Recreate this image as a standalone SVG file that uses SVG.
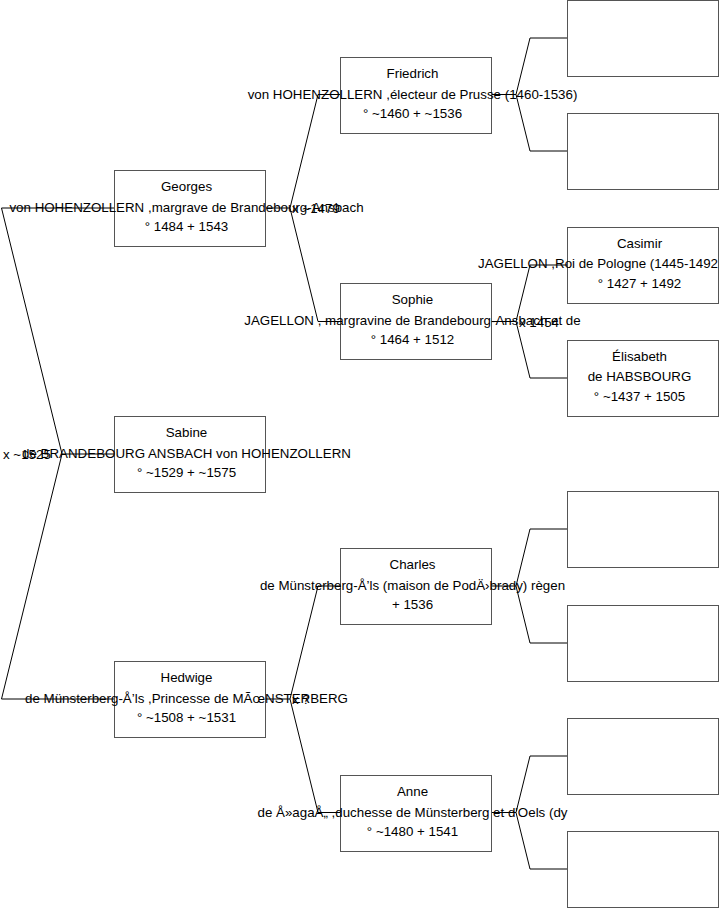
<svg xmlns="http://www.w3.org/2000/svg" width="719" height="908" viewBox="0 0 719 908">
<style>
.bg{fill:#ffffff}
.box{fill:#ffffff;stroke:#555555;stroke-width:1}
.con{fill:none;stroke:#000000;stroke-width:1}
text{font-family:"Liberation Sans",Arial,sans-serif;font-size:13.33px;fill:#000000}
.c{text-anchor:middle}
</style>
<rect class="bg" x="0" y="0" width="719" height="908"/>
<g id="connectors">
<path class="con" d="M114,454 H62 L1.5,208 H114 M62,454 L1.5,699 H114"/>
<path class="con" d="M265,208 H290 L318,94.5 H340 M290,208 L318,321.5 H340"/>
<path class="con" d="M265,699 H290 L318,586 H340 M290,699 L318,812.5 H340"/>
<path class="con" d="M491,94.5 H516 L530,38 H567 M516,94.5 L530,151 H567"/>
<path class="con" d="M491,321.5 H516 L530,265 H567 M516,321.5 L530,378 H567"/>
<path class="con" d="M491,586 H516 L530,529 H567 M516,586 L530,643 H567"/>
<path class="con" d="M491,812.5 H516 L530,756 H567 M516,812.5 L530,869 H567"/>
<text x="3" y="459">x ~1525</text>
<text x="292" y="213">x ~1479</text>
<text x="519" y="326.5">x 1454</text>
<text x="292" y="704">x ?</text>
</g>
<g id="georges">
<rect class="box" x="114.5" y="170.5" width="151" height="76"/>
<text class="c" x="186.5" y="191">Georges</text>
<text class="c" x="186.5" y="212">von HOHENZOLLERN ,margrave de Brandebourg-Ansbach</text>
<text class="c" x="186.5" y="231">° 1484 + 1543</text>
</g>
<g id="sabine">
<rect class="box" x="114.5" y="416.5" width="151" height="76"/>
<text class="c" x="186.5" y="437">Sabine</text>
<text class="c" x="186.5" y="458">de BRANDEBOURG ANSBACH von HOHENZOLLERN</text>
<text class="c" x="186.5" y="477">° ~1529 + ~1575</text>
</g>
<g id="hedwige">
<rect class="box" x="114.5" y="661.5" width="151" height="76"/>
<text class="c" x="186.5" y="682">Hedwige</text>
<text class="c" x="186.5" y="703">de Münsterberg-Å’ls ,Princesse de MÃœNSTERBERG</text>
<text class="c" x="186.5" y="722">° ~1508 + ~1531</text>
</g>
<g id="friedrich">
<rect class="box" x="340.5" y="57.5" width="151" height="76"/>
<text class="c" x="412.5" y="78">Friedrich</text>
<text class="c" x="412.5" y="99">von HOHENZOLLERN ,électeur de Prusse (1460-1536)</text>
<text class="c" x="412.5" y="118">° ~1460 + ~1536</text>
</g>
<g id="sophie">
<rect class="box" x="340.5" y="283.5" width="151" height="76"/>
<text class="c" x="412.5" y="304">Sophie</text>
<text class="c" x="412.5" y="325">JAGELLON , margravine de Brandebourg-Ansbach et de</text>
<text class="c" x="412.5" y="344">° 1464 + 1512</text>
</g>
<g id="charles">
<rect class="box" x="340.5" y="548.5" width="151" height="76"/>
<text class="c" x="412.5" y="569">Charles</text>
<text class="c" x="412.5" y="590">de Münsterberg-Å’ls (maison de PodÄ›brady) règen</text>
<text class="c" x="412.5" y="609">+ 1536</text>
</g>
<g id="anne">
<rect class="box" x="340.5" y="775.5" width="151" height="76"/>
<text class="c" x="412.5" y="796">Anne</text>
<text class="c" x="412.5" y="817">de Å»agaÅ„ ,duchesse de Münsterberg et d'Oels (dy</text>
<text class="c" x="412.5" y="836">° ~1480 + 1541</text>
</g>
<g id="friedrich-father">
<rect class="box" x="567.5" y="0.5" width="151" height="76"/>
</g>
<g id="friedrich-mother">
<rect class="box" x="567.5" y="113.5" width="151" height="76"/>
</g>
<g id="casimir">
<rect class="box" x="567.5" y="227.5" width="151" height="76"/>
<text class="c" x="639.5" y="248">Casimir</text>
<text class="c" x="598" y="268">JAGELLON ,Roi de Pologne (1445-1492</text>
<text class="c" x="639.5" y="288">° 1427 + 1492</text>
</g>
<g id="elisabeth">
<rect class="box" x="567.5" y="340.5" width="151" height="76"/>
<text class="c" x="639.5" y="361">Élisabeth</text>
<text class="c" x="639.5" y="381">de HABSBOURG</text>
<text class="c" x="639.5" y="401">° ~1437 + 1505</text>
</g>
<g id="charles-father">
<rect class="box" x="567.5" y="491.5" width="151" height="76"/>
</g>
<g id="charles-mother">
<rect class="box" x="567.5" y="605.5" width="151" height="76"/>
</g>
<g id="anne-father">
<rect class="box" x="567.5" y="718.5" width="151" height="76"/>
</g>
<g id="anne-mother">
<rect class="box" x="567.5" y="831.5" width="151" height="76"/>
</g>
</svg>
